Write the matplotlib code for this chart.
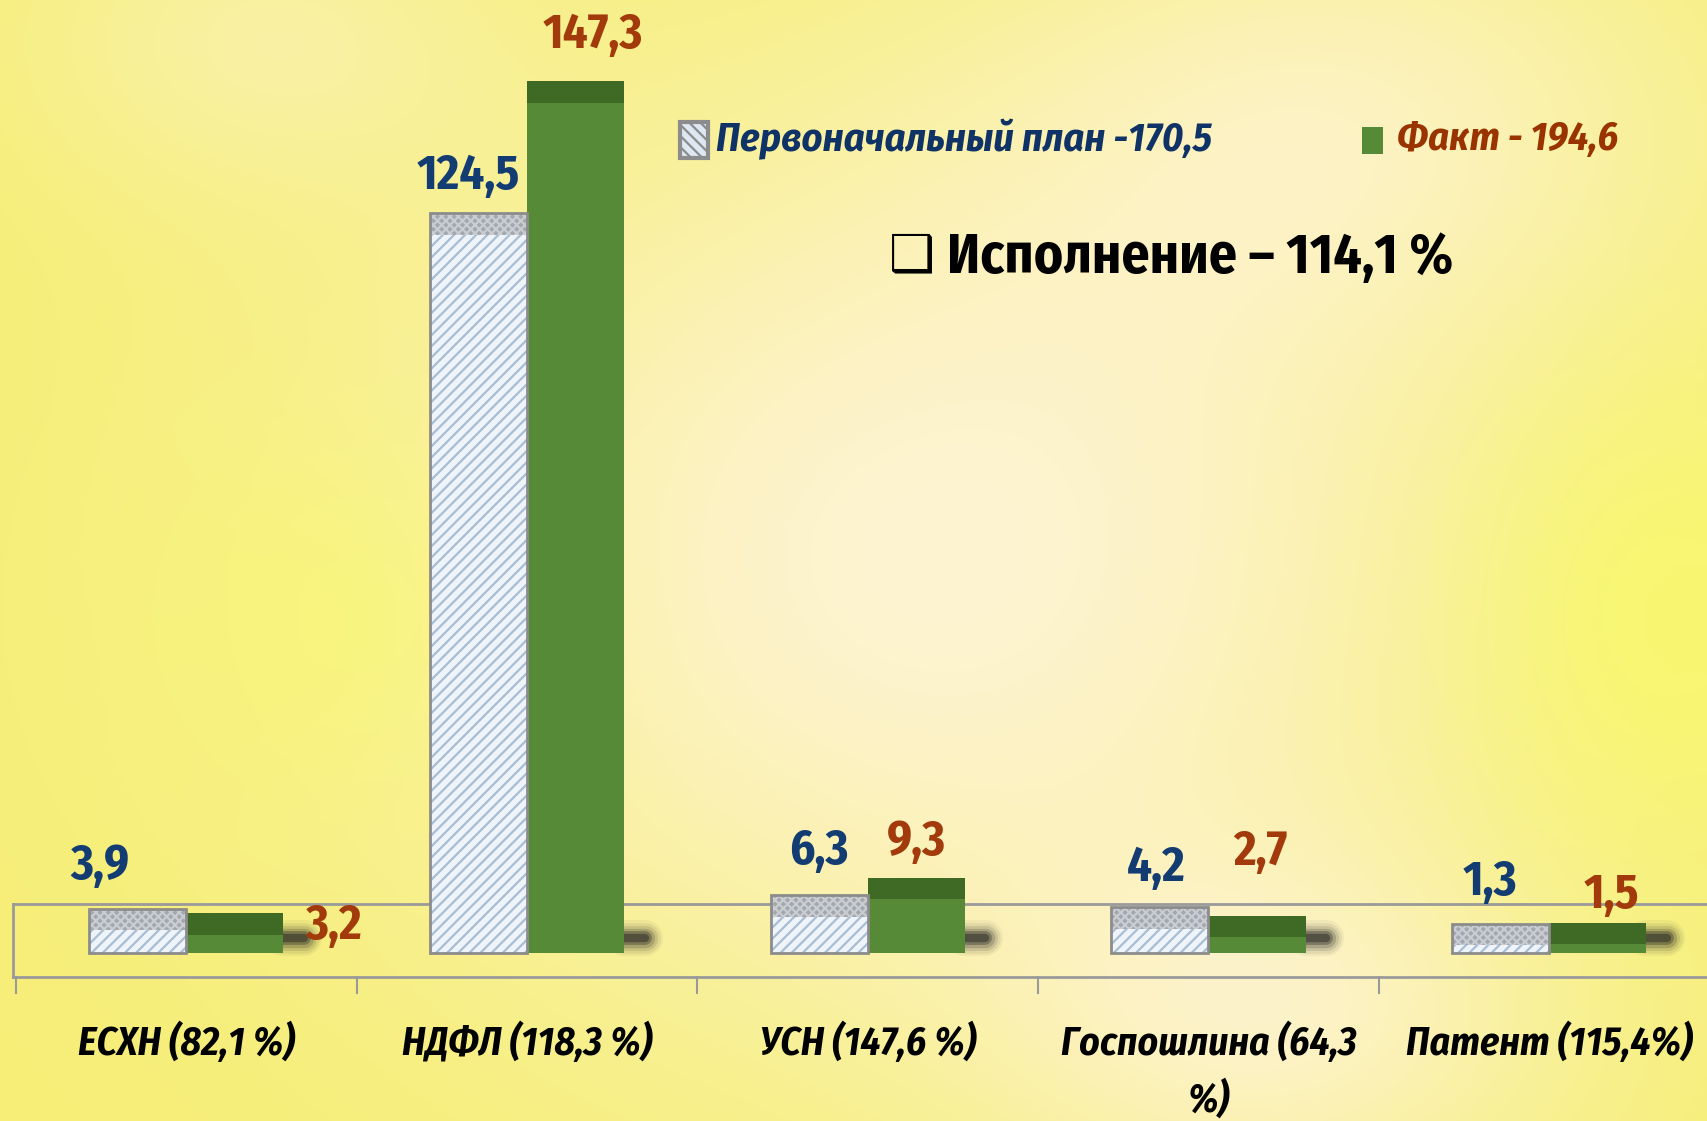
import numpy as np
import matplotlib
matplotlib.use('Agg')
import matplotlib.pyplot as plt
from matplotlib.patches import Rectangle

# data
categories = ['ЕСХН (82,1 %)', 'НДФЛ (118,3 %)', 'УСН (147,6 %)', 'Госпошлина (64,3\n%)', 'Патент (115,4%)']
plan = [3.9, 124.5, 6.3, 4.2, 1.3]
fact = [3.2, 147.3, 9.3, 2.7, 1.5]
plan_labels = ['3,9', '124,5', '6,3', '4,2', '1,3']
fact_labels = ['3,2', '147,3', '9,3', '2,7', '1,5']
plan_total = '170,5'
fact_total = '194,6'
execution = '114,1 %'

# label nudges (category units, value units relative to bar top)
plan_offsets = [(-0.11, 7.4), (-0.03, 6.4), (0.0, 7.6), (-0.01, 6.7), (-0.03, 7.2)]
fact_offsets = [(0.29, -2.3), (0.05, 8.0), (0.0, 6.1), (0.01, 11.0), (0.04, 4.8)]

W, H = 1707, 1121
px_cat = 340.7      # pixels per category
px_val = 5.77       # pixels per unit
base_px = 953       # baseline, pixels from top
cap = 3.78          # 3d top face thickness
bw = 0.285

FONT = ['Fira Sans Condensed', 'DejaVu Sans']

# background: soft yellow gradient
yy, xx = np.mgrid[0:H, 0:W]
xx = xx / W
yy = yy / H

def blob(cx, cy, sx, sy=None):
    sy = sx if sy is None else sy
    return np.exp(-((xx - cx) ** 2 / (2 * sx ** 2) + (yy - cy) ** 2 / (2 * sy ** 2)))

yellow = np.array([0.965, 0.935, 0.46])
cream = np.array([0.995, 0.955, 0.84])
bright = np.array([0.975, 0.975, 0.42])
w_cream = np.clip(0.95 * blob(0.55, 0.5, 0.24, 0.3) + 0.55 * blob(0.8, 0.1, 0.15)
                  + 0.4 * blob(0.15, 0.03, 0.1) + 0.6 * blob(0.75, 0.92, 0.12), 0, 1)[..., None]
w_bright = np.clip(0.8 * blob(0.98, 0.55, 0.08, 0.15) + 0.5 * blob(0.2, 0.55, 0.08, 0.12), 0, 1)[..., None]
img = yellow * (1 - w_cream) + cream * w_cream
img = img * (1 - w_bright) + bright * w_bright

fig = plt.figure(figsize=(W / 100, H / 100), dpi=100)
bg = fig.add_axes([0, 0, 1, 1])
bg.imshow(img, aspect='auto', interpolation='bilinear')
bg.axis('off')

ax = fig.add_axes([0, 0, 1, 1])
ax.set_facecolor('none')
ax.set_xlim(-0.5 - 16 / px_cat, -0.5 + (W - 16) / px_cat)
ax.set_ylim(-(H - base_px) / px_val, base_px / px_val)
ax.axis('off')

x = np.arange(len(categories))

# floor box of the 3d chart
floor_top, floor_bot, floor_left = 8.5, -4.16, -0.509
ax.plot([floor_left, 5], [floor_top, floor_top], color='#9a9a9a', lw=2, zorder=1)
ax.plot([floor_left, 5], [floor_bot, floor_bot], color='#9a9a9a', lw=2, zorder=1)
ax.plot([floor_left, floor_left], [floor_bot, floor_top], color='#9a9a9a', lw=2, zorder=1)
for b in np.arange(len(categories) + 1) - 0.5:
    ax.plot([b, b], [floor_bot, floor_bot - 16 / px_val], color='#9a9a9a', lw=1.5, zorder=1)

# blurred shadows to the right of the green bars
for xi in x:
    x0 = xi + bw
    for lw, a in [(26, 0.05), (22, 0.08), (18, 0.12), (14, 0.2), (10, 0.35), (6, 0.5)]:
        ax.plot([x0, x0 + 0.06], [2.6, 2.6], color='#2a2a26', lw=lw, alpha=a,
                solid_capstyle='round', zorder=2)

plt.rcParams['hatch.linewidth'] = 1.6

for xi, p, f in zip(x, plan, fact):
    # plan bar: hatched body + gray top
    left = xi - bw
    ax.add_patch(Rectangle((left, 0), bw, p, facecolor='#eef4fa', edgecolor='#a9bdd3',
                           hatch='///', lw=0, zorder=3))
    ax.add_patch(Rectangle((left, p), bw, cap, facecolor='#a3a8ae', edgecolor='#c9ccd0',
                           hatch='xxxx', lw=0, zorder=3))
    ax.add_patch(Rectangle((left, 0), bw, p + cap, fill=False, edgecolor='#8c8c8c', lw=2, zorder=4))
    # fact bar: green body + dark top
    ax.bar(xi + bw / 2, f, width=bw, color='#578a36', lw=0, zorder=3)
    ax.bar(xi + bw / 2, cap, bottom=f, width=bw, color='#3f6a26', lw=0, zorder=3)

for xi, p, f, pl, fl, po, fo in zip(x, plan, fact, plan_labels, fact_labels, plan_offsets, fact_offsets):
    ax.text(xi - bw / 2 + po[0], p + cap + po[1], pl, ha='center', va='center',
            fontsize=35, fontweight='bold', color='#123c72', family=FONT, zorder=5)
    ax.text(xi + bw / 2 + fo[0], f + cap + fo[1], fl, ha='center', va='center',
            fontsize=35, fontweight='bold', color='#a23a0c', family=FONT, zorder=5)

for xi, c in zip(x, categories):
    ax.text(xi, -12.0, c, ha='center', va='top', fontsize=28.5, fontweight='bold',
            fontstyle='italic', color='black', family=FONT, linespacing=1.5)

# legend
fig.patches.append(Rectangle((680 / W, 1 - 158 / H), 28 / W, 36 / H, transform=fig.transFigure,
                             facecolor='#dde8f3', edgecolor='#8c8c8c', hatch='\\\\\\', lw=3))
fig.text(716 / W, 1 - 139 / H, 'Первоначальный план -' + plan_total, ha='left', va='center',
         fontsize=29, fontweight='bold', fontstyle='italic', color='#0f3366', family=FONT)
fig.patches.append(Rectangle((1362 / W, 1 - 154 / H), 21 / W, 27 / H, transform=fig.transFigure,
                             facecolor='#578a36', lw=0))
fig.text(1397 / W, 1 - 139 / H, 'Факт - ' + fact_total, ha='left', va='center',
         fontsize=29, fontweight='bold', fontstyle='italic', color='#993300', family=FONT)

fig.text(889 / W, 1 - 256 / H, '❑', ha='left', va='center', fontsize=37,
         color='black', family=['DejaVu Sans'])
fig.text(947 / W, 1 - 258 / H, 'Исполнение – ' + execution, ha='left', va='center',
         fontsize=40, fontweight='bold', color='black', family=FONT)

fig.savefig('out.png', dpi=100)
